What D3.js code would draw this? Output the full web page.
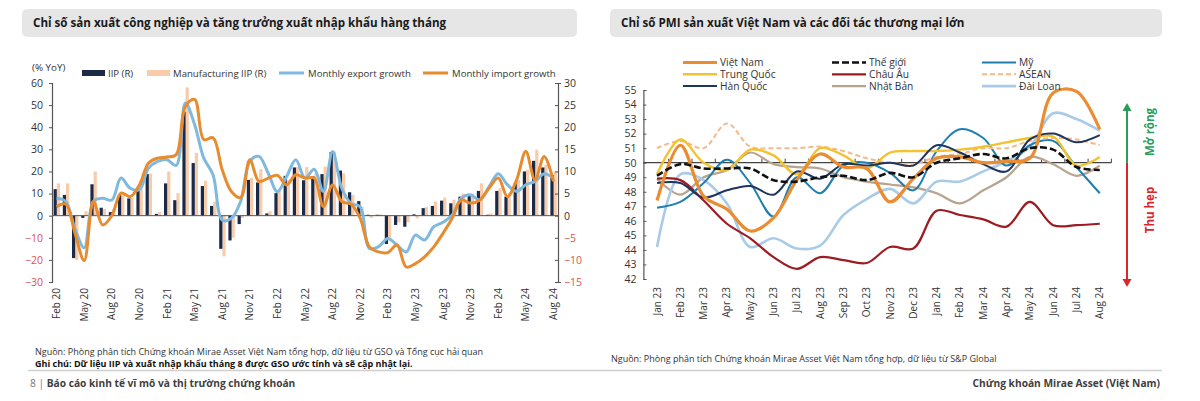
<!DOCTYPE html>
<html><head><meta charset="utf-8">
<script src="https://cdn.jsdelivr.net/npm/d3@7"></script>
<style>
html,body{margin:0;padding:0;background:#fff;}
svg{display:block;font-family:"Open Sans","Noto Sans",sans-serif;}
</style></head>
<body><svg id="c" width="1200" height="401"></svg>
<script>
// ---------- LEFT CHART DATA ----------
const months = ["Feb 20","Mar 20","Apr 20","May 20","Jun 20","Jul 20","Aug 20","Sep 20","Oct 20","Nov 20","Dec 20",
"Jan 21","Feb 21","Mar 21","Apr 21","May 21","Jun 21","Jul 21","Aug 21","Sep 21","Oct 21","Nov 21","Dec 21",
"Jan 22","Feb 22","Mar 22","Apr 22","May 22","Jun 22","Jul 22","Aug 22","Sep 22","Oct 22","Nov 22","Dec 22",
"Jan 23","Feb 23","Mar 23","Apr 23","May 23","Jun 23","Jul 23","Aug 23","Sep 23","Oct 23","Nov 23","Dec 23",
"Jan 24","Feb 24","Mar 24","Apr 24","May 24","Jun 24","Jul 24","Aug 24"];
const iip = [6.0,4.7,-9.6,-0.5,7.1,1.8,0.8,4.7,3.9,5.6,9.4,
0.4,7.3,3.5,23.5,11.9,6.7,2.2,-7.5,-5.6,-1.9,8.1,7.5,
0.5,5.1,9.0,10.9,8.0,8.9,9.4,14.4,10.2,5.3,3.3,0.2,
0.2,-6.4,-2.1,-2.5,0.3,1.7,2.2,3.4,2.8,4.3,4.8,5.6,
0.2,5.6,4.3,7.3,10.0,12.4,10.9,9.2];
const mfgIip = [7.3,7.3,-10.0,1.0,10.0,1.5,1.5,4.6,4.0,6.0,9.5,
0.8,10.0,5.1,29.0,14.2,7.9,3.2,-9.2,-5.0,-0.5,8.5,10.5,
1.0,5.8,8.1,11.0,11.0,9.6,11.1,14.5,9.6,4.7,2.0,-0.5,
0.3,-5.0,-1.5,-1.5,-0.6,2.0,3.2,4.1,3.6,5.0,5.0,7.3,
0.5,6.2,5.1,8.1,10.4,14.9,11.5,10.0];
const exportGrowth = [7.9,6.4,-6.0,-14.5,6.5,7.9,7.1,17.0,12.4,11.7,21.5,
24.5,25.3,22.7,51.0,41.2,26.0,18.5,-2.0,-1.2,6.4,24.5,26.8,
19.2,10.9,17.7,25.3,17.0,21.0,11.0,29.0,12.4,5.6,4.0,-14.8,
-14.0,-10.3,-13.3,-16.4,-8.8,-11.0,-5.0,-3.0,0.3,7.9,9.4,7.1,
13.0,19.0,14.0,11.0,14.0,15.5,19.0,17.0];
const importGrowth = [4.1,5.2,-8.0,-20.3,6.4,-4.2,0.0,10.2,8.6,13.9,23.8,
26.0,26.5,27.6,49.5,52.6,34.4,35.2,20.8,10.9,8.2,25.3,15.5,
17.0,18.2,13.9,18.5,17.0,17.0,4.1,13.9,6.4,5.2,-1.2,-14.1,
-16.4,-16.7,-13.3,-23.2,-21.7,-18.6,-14.1,-8.0,-1.2,7.1,5.6,7.1,
12.4,17.0,8.6,16.2,29.0,16.2,26.8,15.5];
const leftTicks = [-30,-20,-10,0,10,20,30,40,50,60];
const rightTicks = [-15,-10,-5,0,5,10,15,20,25,30];
const leftLabelMonths = months.filter((m,i)=>i%3===0);

// ---------- RIGHT CHART DATA ----------
const pmiMonths = ["Jan 23","Feb 23","Mar 23","Apr 23","May 23","Jun 23","Jul 23","Aug 23","Sep 23","Oct 23","Nov 23","Dec 23",
"Jan 24","Feb 24","Mar 24","Apr 24","May 24","Jun 24","Jul 24","Aug 24"];
const vietnam  = [47.4,51.2,47.7,46.8,45.3,46.2,48.8,50.6,49.7,49.6,47.3,48.9,50.3,50.4,50.0,50.1,50.3,54.8,54.9,52.3];
const world    = [49.1,49.9,49.6,49.6,49.6,48.8,48.7,49.0,49.1,48.8,49.3,49.0,50.0,50.3,50.6,50.3,51.0,50.9,49.7,49.5];
const usa      = [46.9,47.3,48.6,50.2,48.6,46.3,49.0,47.9,49.8,50.0,49.3,48.1,50.8,52.3,51.7,49.8,51.2,51.5,49.7,47.9];
const china    = [49.2,51.6,50.0,49.5,50.9,50.5,49.2,51.0,50.5,49.6,50.7,50.8,50.8,50.9,51.1,51.4,51.7,51.8,49.8,50.4];
const europe   = [48.9,48.8,47.4,45.8,44.8,43.5,42.7,43.5,43.3,43.1,44.2,44.1,46.7,46.4,46.1,45.6,47.3,45.7,45.7,45.8];
const asean    = [51.0,51.5,51.0,52.7,51.1,51.0,51.0,51.1,50.8,50.3,50.0,49.9,50.4,50.6,51.0,51.0,51.5,51.7,51.6,51.2];
const korea    = [48.6,48.6,47.6,48.1,48.4,47.8,49.4,48.9,49.9,49.8,50.0,49.8,51.2,50.7,49.9,49.4,51.6,52.0,51.4,51.9];
const japan    = [48.9,47.8,49.0,49.5,50.7,49.9,49.7,49.6,49.0,48.7,48.5,48.3,47.9,47.2,48.1,49.0,50.4,49.9,49.1,49.8];
const taiwan   = [44.2,49.2,48.8,47.2,44.2,44.8,44.1,44.3,46.4,47.5,48.2,47.2,48.7,48.7,49.4,50.1,51.1,53.4,53.0,52.2];
const pmiTicks = [42,43,44,45,46,47,48,49,50,51,52,53,54,55];

const svg = d3.select("#c");
const FONT_DARK = "#333";
const RED_LBL = "#d9534f";

// ---------- Title boxes ----------
function titleBox(x0,x1,text){
  svg.append("rect").attr("x",x0).attr("y",9).attr("width",x1-x0).attr("height",28)
     .attr("rx",5).attr("fill","#e6e6e6");
  svg.append("text").attr("x",x0+11).attr("y",27).attr("font-size",11.6).attr("font-weight","bold")
     .attr("fill","#1a1a1a").text(text);
}
titleBox(22,577,"Chỉ số sản xuất công nghiệp và tăng trưởng xuất nhập khẩu hàng tháng");
titleBox(610,1162,"Chỉ số PMI sản xuất Việt Nam và các đối tác thương mại lớn");

// ================= LEFT CHART =================
const L = {x0:52, x1:558, yTop:83, yBot:282};
const x = d3.scaleBand().domain(months).range([L.x0, L.x1]);
const yL = d3.scaleLinear().domain([-30,60]).range([L.yBot, L.yTop]);
const yR = d3.scaleLinear().domain([-15,30]).range([L.yBot, L.yTop]);
const cx = m => x(m) + x.bandwidth()/2;
const gL = svg.append("g");

// bars
const bw = 3.2;
gL.selectAll(".mfg").data(months).enter().append("rect")
  .attr("x", m => cx(m)+0.2).attr("width", bw)
  .attr("y", (m,i)=> yR(Math.max(0,mfgIip[i])))
  .attr("height",(m,i)=> Math.abs(yR(mfgIip[i])-yR(0)))
  .attr("fill","#f8cbab");
gL.selectAll(".iip").data(months).enter().append("rect")
  .attr("x", m => cx(m)-bw+0.2).attr("width", bw)
  .attr("y", (m,i)=> yR(Math.max(0,iip[i])))
  .attr("height",(m,i)=> Math.abs(yR(iip[i])-yR(0)))
  .attr("fill","#1b2a47");

// zero line
gL.append("line").attr("x1",L.x0).attr("x2",L.x1).attr("y1",yL(0)).attr("y2",yL(0))
  .attr("stroke","#555").attr("stroke-width",1);

// lines
const lineL = arr => d3.line().x((d,i)=>cx(months[i])).y(d=>yL(d)).curve(d3.curveCatmullRom.alpha(0.5))(arr);
gL.append("path").attr("d",lineL(exportGrowth)).attr("fill","none").attr("stroke","#7fb9df").attr("stroke-width",3);
gL.append("path").attr("d",lineL(importGrowth)).attr("fill","none").attr("stroke","#e88b2e").attr("stroke-width",3);

// axes
const axL = d3.axisLeft(yL).tickValues(leftTicks).tickSize(3).tickPadding(6);
const gAxL = gL.append("g").attr("transform",`translate(${L.x0},0)`).call(axL);
const axR = d3.axisRight(yR).tickValues(rightTicks).tickSize(3).tickPadding(3);
const gAxR = gL.append("g").attr("transform",`translate(${L.x1},0)`).call(axR);
[gAxL,gAxR].forEach(g=>{
  g.select(".domain").attr("stroke","#555").attr("stroke-width",1.2);
  g.selectAll(".tick line").attr("stroke","#555");
  g.selectAll("text").attr("font-size",10.5).attr("font-family","'Open Sans','Noto Sans',sans-serif")
    .attr("fill",d=> d<0 ? RED_LBL : FONT_DARK);
});
gAxR.selectAll(".tick line").attr("x2",-3);
gAxR.selectAll("text").attr("x",6);

// x labels
const gxl = gL.append("g");
leftLabelMonths.forEach(m=>{
  gxl.append("text").attr("transform",`translate(${cx(m)+3.5},${288}) rotate(-90)`)
    .attr("text-anchor","end").attr("font-size",10).attr("fill",FONT_DARK).text(m);
});

// legend
svg.append("text").attr("x",32).attr("y",71).attr("font-size",9.8).attr("fill",FONT_DARK).text("(% YoY)");
const legL = [
  {type:"rect", color:"#1b2a47", x:82, label:"IIP (R)"},
  {type:"rect", color:"#f8cbab", x:147, label:"Manufacturing IIP (R)"},
  {type:"line", color:"#7fb9df", x:279, label:"Monthly export growth"},
  {type:"line", color:"#e88b2e", x:423, label:"Monthly import growth"}
];
legL.forEach(d=>{
  if(d.type==="rect") svg.append("rect").attr("x",d.x).attr("y",70).attr("width",23).attr("height",6).attr("fill",d.color);
  else svg.append("line").attr("x1",d.x).attr("x2",d.x+25).attr("y1",73).attr("y2",73).attr("stroke",d.color).attr("stroke-width",3);
  svg.append("text").attr("x",d.x+(d.type==="rect"?26:29)).attr("y",76.5).attr("font-size",9.6).attr("fill",FONT_DARK).text(d.label);
});

// ================= RIGHT CHART =================
const R = {x0:645.4, x1:1111.4, yTop:90, yBot:279};
const xp = d3.scaleBand().domain(pmiMonths).range([R.x0,R.x1]);
const yp = d3.scaleLinear().domain([42,55]).range([R.yBot,R.yTop]);
const pcx = m => xp(m)+xp.bandwidth()/2;
const gR = svg.append("g");

const axP = d3.axisLeft(yp).tickValues(pmiTicks).tickSize(-3).tickPadding(7);
const gAxP = gR.append("g").attr("transform",`translate(${R.x0-2},0)`).call(axP);
gAxP.select(".domain").attr("stroke","#555").attr("stroke-width",1.2);
gAxP.selectAll(".tick line").attr("stroke","#555");
gAxP.selectAll("text").attr("font-size",10.5).attr("fill",FONT_DARK).attr("font-family","'Open Sans','Noto Sans',sans-serif");

// 50 line with ticks at boundaries
gR.append("line").attr("x1",R.x0-2).attr("x2",R.x1).attr("y1",yp(50)).attr("y2",yp(50)).attr("stroke","#444").attr("stroke-width",1.2);
pmiMonths.forEach(m=>{
  const bx = xp(m)+xp.bandwidth();
  gR.append("line").attr("x1",bx).attr("x2",bx).attr("y1",yp(50)).attr("y2",yp(50)-4).attr("stroke","#444");
});

const series = [
  {name:"Nhật Bản", data:japan,  color:"#b8a38f", w:2.2},
  {name:"Đài Loan", data:taiwan, color:"#a9cbe8", w:2.6},
  {name:"Châu Âu",  data:europe, color:"#9c1c22", w:2.2},
  {name:"Mỹ",       data:usa,    color:"#1f7fae", w:2.0},
  {name:"ASEAN",    data:asean,  color:"#f5b98a", w:2.0, dash:"5,3"},
  {name:"Trung Quốc",data:china, color:"#f2c230", w:2.4},
  {name:"Hàn Quốc", data:korea,  color:"#1e355e", w:2.0},
  {name:"Việt Nam", data:vietnam,color:"#ec8c30", w:3.2},
  {name:"Thế giới", data:world,  color:"#111111", w:2.6, dash:"7,3"}
];
const lineP = arr => d3.line().x((d,i)=>pcx(pmiMonths[i])).y(d=>yp(d)).curve(d3.curveCatmullRom.alpha(0.5))(arr);
series.forEach(s=>{
  gR.append("path").attr("d",lineP(s.data)).attr("fill","none").attr("stroke",s.color)
    .attr("stroke-width",s.w).attr("stroke-dasharray",s.dash||null);
});

// x labels
pmiMonths.forEach(m=>{
  gR.append("text").attr("transform",`translate(${pcx(m)+3.5},${287}) rotate(-90)`)
    .attr("text-anchor","end").attr("font-size",10).attr("fill",FONT_DARK).text(m);
});

// legend
const byName = Object.fromEntries(series.map(s=>[s.name,s]));
const legCols = [683, 832, 982];
const legRows = [62.5, 74.3, 86.1];
const legOrder = [["Việt Nam","Trung Quốc","Hàn Quốc"],["Thế giới","Châu Âu","Nhật Bản"],["Mỹ","ASEAN","Đài Loan"]];
legOrder.forEach((col,ci)=>col.forEach((nm,ri)=>{
  const s = byName[nm];
  svg.append("line").attr("x1",legCols[ci]).attr("x2",legCols[ci]+34).attr("y1",legRows[ri]).attr("y2",legRows[ri])
     .attr("stroke",s.color).attr("stroke-width",Math.min(s.w,3)).attr("stroke-dasharray",s.dash||null);
  svg.append("text").attr("x",legCols[ci]+37).attr("y",legRows[ri]+3.6).attr("font-size",10.2).attr("fill",FONT_DARK).text(nm);
}));

// arrows
const ax = 1127;
svg.append("line").attr("x1",ax).attr("x2",ax).attr("y1",yp(50)).attr("y2",110).attr("stroke","#2a9d57").attr("stroke-width",2);
svg.append("path").attr("d",`M${ax-4.5},${111} L${ax+4.5},${111} L${ax},${103} Z`).attr("fill","#2a9d57");
svg.append("line").attr("x1",ax).attr("x2",ax).attr("y1",yp(50)).attr("y2",280).attr("stroke","#d9262b").attr("stroke-width",2);
svg.append("path").attr("d",`M${ax-4.5},${279} L${ax+4.5},${279} L${ax},${287} Z`).attr("fill","#d9262b");
svg.append("text").attr("transform",`translate(1154,132) rotate(-90)`).attr("text-anchor","middle")
   .attr("font-size",11.5).attr("font-weight","bold").attr("fill","#2a9d57").text("Mở rộng");
svg.append("text").attr("transform",`translate(1154,210) rotate(-90)`).attr("text-anchor","middle")
   .attr("font-size",11.5).attr("font-weight","bold").attr("fill","#d9262b").text("Thu hẹp");

// ---------- footnotes ----------
svg.append("text").attr("x",35).attr("y",355).attr("font-size",9).attr("fill","#333")
   .text("Nguồn: Phòng phân tích Chứng khoán Mirae Asset Việt Nam tổng hợp, dữ liệu từ GSO và Tổng cục hải quan");
svg.append("text").attr("x",35).attr("y",367).attr("font-size",9).attr("font-weight","bold").attr("fill","#111")
   .text("Ghi chú: Dữ liệu IIP và xuất nhập khẩu tháng 8 được GSO ước tính và sẽ cập nhật lại.");
svg.append("text").attr("x",611).attr("y",362).attr("font-size",9).attr("fill","#333")
   .text("Nguồn: Phòng phân tích Chứng khoán Mirae Asset Việt Nam tổng hợp, dữ liệu từ S&P Global");
svg.append("line").attr("x1",28).attr("x2",1162).attr("y1",370.5).attr("y2",370.5).attr("stroke","#d0d0d0").attr("stroke-width",1.5);
const ft = svg.append("text").attr("x",30).attr("y",387).attr("font-size",10.2);
ft.append("tspan").attr("fill","#777").text("8 | ");
ft.append("tspan").attr("fill","#404040").attr("font-weight","bold").text("Báo cáo kinh tế vĩ mô và thị trường chứng khoán");
svg.append("text").attr("x",1160).attr("y",387).attr("text-anchor","end").attr("font-size",10.2).attr("font-weight","bold")
   .attr("fill","#404040").text("Chứng khoán Mirae Asset (Việt Nam)");
</script></body></html>
